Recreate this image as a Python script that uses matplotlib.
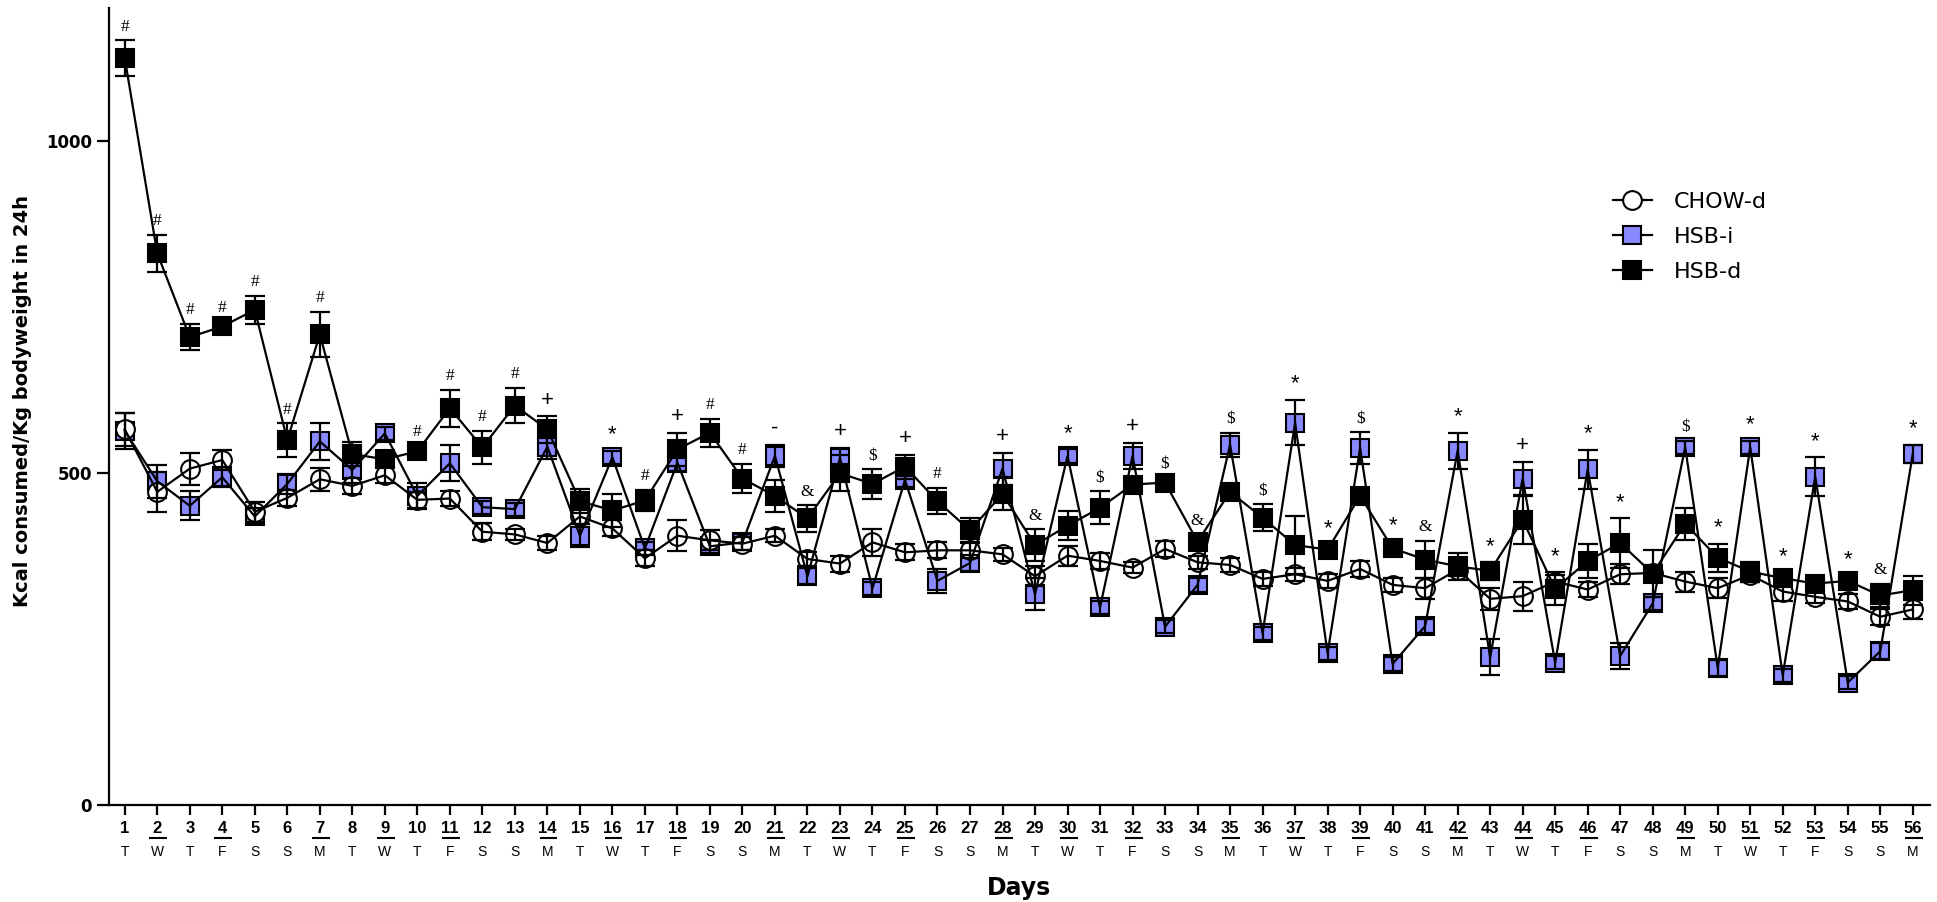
import matplotlib
matplotlib.use('Agg')
import matplotlib.pyplot as plt
from matplotlib.lines import Line2D
import numpy as np

# ---------------- data ----------------
days = list(range(1, 57))
weekdays = ['T', 'W', 'T', 'F', 'S', 'S', 'M'] * 8
underlined_days = [2, 4, 7, 9, 11, 14, 16, 18, 21, 23, 25, 28, 30, 32, 35, 37,
                   39, 42, 44, 46, 49, 51, 53, 56]

chow_mean = [566, 472, 507, 520, 442, 463, 491, 481, 497, 460,
             462, 412, 408, 395, 435, 417, 372, 406, 399, 394,
             406, 371, 364, 396, 381, 384, 384, 378, 345, 376,
             368, 358, 386, 366, 362, 341, 348, 338, 356, 332,
             327, 355, 311, 315, 337, 325, 348, 350, 337, 327,
             347, 322, 314, 307, 284, 295]
chow_sem = [25, 30, 24, 15, 15, 12, 17, 12, 12, 12,
            12, 13, 8, 10, 12, 12, 12, 23, 15, 10,
            10, 10, 12, 20, 12, 12, 12, 10, 15, 15,
            12, 8, 12, 10, 10, 10, 10, 10, 12, 10,
            16, 10, 17, 22, 10, 12, 15, 12, 15, 15,
            10, 15, 10, 12, 12, 14]

hsbi_mean = [564, 488, 451, 494, 435, 484, 548, 505, 560, 466,
             515, 449, 446, 540, 406, 524, 387, 516, 390, 396,
             526, 345, 523, 327, 490, 338, 365, 507, 318, 526,
             298, 526, 269, 332, 543, 259, 576, 229, 538, 213,
             270, 534, 223, 492, 215, 506, 225, 304, 539, 207,
             539, 196, 495, 185, 232, 529]
hsbi_sem = [27, 25, 22, 15, 12, 15, 28, 20, 10, 20,
            27, 10, 10, 18, 17, 10, 10, 12, 10, 12,
            17, 12, 15, 10, 10, 18, 12, 24, 24, 10,
            10, 20, 10, 10, 18, 10, 34, 10, 24, 10,
            10, 27, 27, 25, 10, 29, 19, 10, 10, 12,
            10, 10, 29, 10, 12, 14]

hsbd_mean = [1125, 831, 705, 721, 746, 550, 709, 529, 521, 533,
             598, 539, 602, 566, 458, 444, 459, 536, 561, 492,
             466, 432, 500, 484, 510, 458, 414, 469, 392, 421,
             448, 483, 486, 397, 472, 433, 392, 385, 466, 387,
             370, 360, 353, 430, 326, 368, 395, 349, 424, 373,
             352, 342, 334, 338, 316, 324]
hsbd_sem = [27, 28, 20, 8, 21, 25, 34, 18, 10, 8,
            28, 25, 27, 20, 18, 25, 16, 25, 21, 22,
            24, 20, 27, 22, 18, 20, 19, 25, 24, 22,
            25, 12, 8, 10, 10, 20, 43, 8, 10, 10,
            28, 20, 13, 36, 25, 25, 37, 35, 24, 21,
            15, 8, 8, 8, 18, 22]

significance = ['#', '#', '#', '#', '#', '#', '#', '', '', '#',
                '#', '#', '#', '+', '', '*', '#', '+', '#', '#',
                '-', '&', '+', '$', '+', '#', '', '+', '&', '*',
                '$', '+', '$', '&', '$', '$', '*', '*', '$', '*',
                '&', '*', '*', '+', '*', '*', '*', '', '$', '*',
                '*', '*', '*', '*', '&', '*']

series_labels = ['CHOW-d', 'HSB-i', 'HSB-d']

# ---------------- style ----------------
BLUE = '#8888ff'
plt.rcParams['font.family'] = ['Liberation Sans', 'DejaVu Sans']
WIDE = ['DejaVu Sans', 'Liberation Sans']

W, H = 1937, 902
fig = plt.figure(figsize=(W / 100, H / 100), dpi=100)
ax = fig.add_axes([108.5 / W, (H - 805.4) / H, (1930 - 108.5) / W, (805.4 - 8.3) / H])

styles = {
    'CHOW-d': dict(marker='o', mfc='white', mec='k'),
    'HSB-i': dict(marker='s', mfc=BLUE, mec='k'),
    'HSB-d': dict(marker='s', mfc='k', mec='k'),
}
data = {
    'CHOW-d': (chow_mean, chow_sem),
    'HSB-i': (hsbi_mean, hsbi_sem),
    'HSB-d': (hsbd_mean, hsbd_sem),
}
marker_z = {'HSB-i': 2, 'CHOW-d': 3, 'HSB-d': 3.5}

MS = 13.5
for name in ['HSB-i', 'CHOW-d', 'HSB-d']:
    m, s = data[name]
    ax.plot(days, m, ls='none', ms=MS, mew=1.5, zorder=marker_z[name], **styles[name])

for name in ['HSB-i', 'CHOW-d', 'HSB-d']:
    m, s = data[name]
    ax.plot(days, m, color='k', lw=1.6, zorder=5)
    ax.errorbar(days, m, yerr=s, fmt='none', ecolor='k', elinewidth=1.6,
                capsize=7, capthick=1.6, zorder=5)

# significance symbols above the highest error bar
serif_syms = {'#', '$', '&'}
for i, sym in enumerate(significance):
    if not sym:
        continue
    top = max(data[n][0][i] + data[n][1][i] for n in data)
    if sym in serif_syms:
        fam, fs = ['Liberation Serif', 'DejaVu Serif'], 12.5
    else:
        fam, fs = ['Liberation Sans', 'DejaVu Sans'], 16
    ax.annotate(sym, xy=(days[i], top), xytext=(0, 4), textcoords='offset points',
                ha='center', va='bottom', fontsize=fs, family=fam, zorder=6)

# axes
ax.set_xlim(0.5, 56.53)
ax.set_ylim(0, 1200)
for sp in ['top', 'right']:
    ax.spines[sp].set_visible(False)
for sp in ['left', 'bottom']:
    ax.spines[sp].set_linewidth(1.6)

ax.set_xticks(days)
ax.set_xticklabels([str(d) for d in days], fontweight='bold', fontsize=12)
ax.set_yticks([0, 500, 1000])
ax.set_yticklabels(['0', '500', '1000'], fontweight='bold', fontsize=12, family=WIDE)
ax.tick_params(axis='x', length=7.5, width=1.6, pad=4)
ax.tick_params(axis='y', length=9, width=1.6, pad=3)

xt = ax.get_xaxis_transform()
for d, wd in zip(days, weekdays):
    ax.text(d, -0.0585, wd, transform=xt, ha='center', va='center', fontsize=10,
            clip_on=False)
for d in underlined_days:
    ax.plot([d - 0.24, d + 0.31], [-0.041, -0.041], transform=xt, color='k',
            lw=1.5, clip_on=False, solid_capstyle='butt')

ax.set_xlabel('Days', fontweight='bold', fontsize=17, family=WIDE)
ax.xaxis.set_label_coords(0.5, -0.088)
ax.set_ylabel('Kcal consumed/Kg bodyweight in 24h', fontweight='bold', fontsize=14,
              family=WIDE)
ax.yaxis.set_label_coords(-0.042, 0.507)

handles = []
for name in series_labels:
    handles.append(Line2D([], [], color='k', lw=1.6, ms=MS, mew=1.5, **styles[name]))
leg = ax.legend(handles, series_labels, loc='upper left',
                bbox_to_anchor=(1613 / W, 1 - 192 / H), bbox_transform=fig.transFigure,
                frameon=False, handlelength=1.75, handletextpad=1.0,
                labelspacing=0.68, borderpad=0, borderaxespad=0,
                prop={'family': WIDE, 'size': 16})

fig.savefig('out.png', dpi=100)
